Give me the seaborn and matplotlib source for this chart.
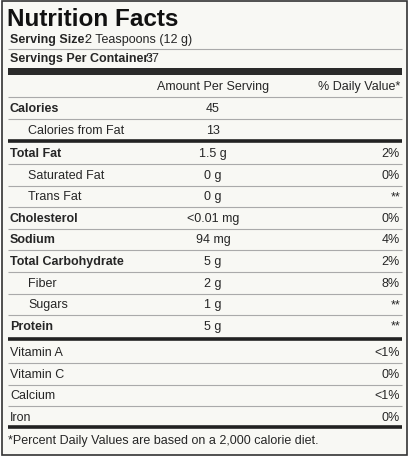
import matplotlib
matplotlib.use("Agg")
import matplotlib.pyplot as plt
import seaborn as sns

title = "Nutrition Facts"
serving_size = "2 Teaspoons (12 g)"
servings = "37"
calories = "45"
calories_fat = "13"
nutrients = ["Total Fat", "Saturated Fat", "Trans Fat", "Cholesterol", "Sodium",
             "Total Carbohydrate", "Fiber", "Sugars", "Protein"]
amounts = ["1.5 g", "0 g", "0 g", "<0.01 mg", "94 mg", "5 g", "2 g", "1 g", "5 g"]
daily = ["2%", "0%", "**", "0%", "4%", "2%", "8%", "**", "**"]
main_nutrient = [True, False, False, True, True, True, False, False, True]
vitamins = ["Vitamin A", "Vitamin C", "Calcium", "Iron"]
vit_dv = ["<1%", "0%", "<1%", "0%"]
footnote = "*Percent Daily Values are based on a 2,000 calorie diet."

sns.set_theme(style="white")
plt.rcParams['font.family'] = ['Liberation Sans', 'DejaVu Sans']

fig = plt.figure(figsize=(4.1, 4.6), dpi=100)
fig.patch.set_facecolor("white")
ax = fig.add_axes([0, 0, 1, 1])
ax.set_xlim(0, 410)
ax.set_ylim(460, 0)
ax.axis("off")
bg = "#f8f8f4"
ax.add_patch(plt.Rectangle((2, 2), 405, 454, facecolor=bg, edgecolor="#333333", lw=1.2))

fs = 9
L, IND, MID, R = 10, 28, 213, 400
grey = "#aaaaaa"

def hline(y, lw, c="#222222"):
    ax.plot([8, 402], [y, y], color=c, lw=lw, solid_capstyle="butt")

ax.text(7, 19, title, fontsize=17.5, fontweight="bold", va="center", color="#111111")
ax.text(L, 40, "Serving Size:", fontsize=fs, fontweight="bold", va="center")
ax.text(L + 75, 40, serving_size, fontsize=fs, va="center")
hline(50, 0.8, grey)
ax.text(L, 59, "Servings Per Container:", fontsize=fs, fontweight="bold", va="center")
ax.text(L + 136, 59, servings, fontsize=fs, va="center")
ax.add_patch(plt.Rectangle((8, 69), 394, 7, color="#2a2a2a", lw=0))

ax.text(MID, 87, "Amount Per Serving", fontsize=fs, ha="center", va="center")
ax.text(R, 87, "% Daily Value*", fontsize=fs, ha="right", va="center")
hline(98, 0.8, grey)
ax.text(L, 109, "Calories", fontsize=fs, fontweight="bold", va="center")
ax.text(MID, 109, calories, fontsize=fs, ha="center", va="center")
hline(120, 0.8, grey)
ax.text(IND, 131, "Calories from Fat", fontsize=fs, va="center")
ax.text(MID, 131, calories_fat, fontsize=fs, ha="center", va="center")
hline(142, 2.6)

step = 21.6
for i, (n, a, d, m) in enumerate(zip(nutrients, amounts, daily, main_nutrient)):
    y = 154 + i * step
    ax.text(L if m else IND, y, n, fontsize=fs, fontweight="bold" if m else "normal", va="center")
    ax.text(MID, y, a, fontsize=fs, ha="center", va="center")
    ax.text(R, y, d, fontsize=fs, ha="right", va="center")
    if i < len(nutrients) - 1:
        hline(y + 11, 0.8, grey)
hline(340, 2.6)

for i, (v, d) in enumerate(zip(vitamins, vit_dv)):
    y = 353 + i * 21.7
    ax.text(L, y, v, fontsize=fs, va="center")
    ax.text(R, y, d, fontsize=fs, ha="right", va="center")
    if i < len(vitamins) - 1:
        hline(y + 11, 0.8, grey)
hline(428, 2.6)
ax.text(8, 441, footnote, fontsize=fs, va="center")

fig.savefig("out.png", dpi=100, facecolor="white")
